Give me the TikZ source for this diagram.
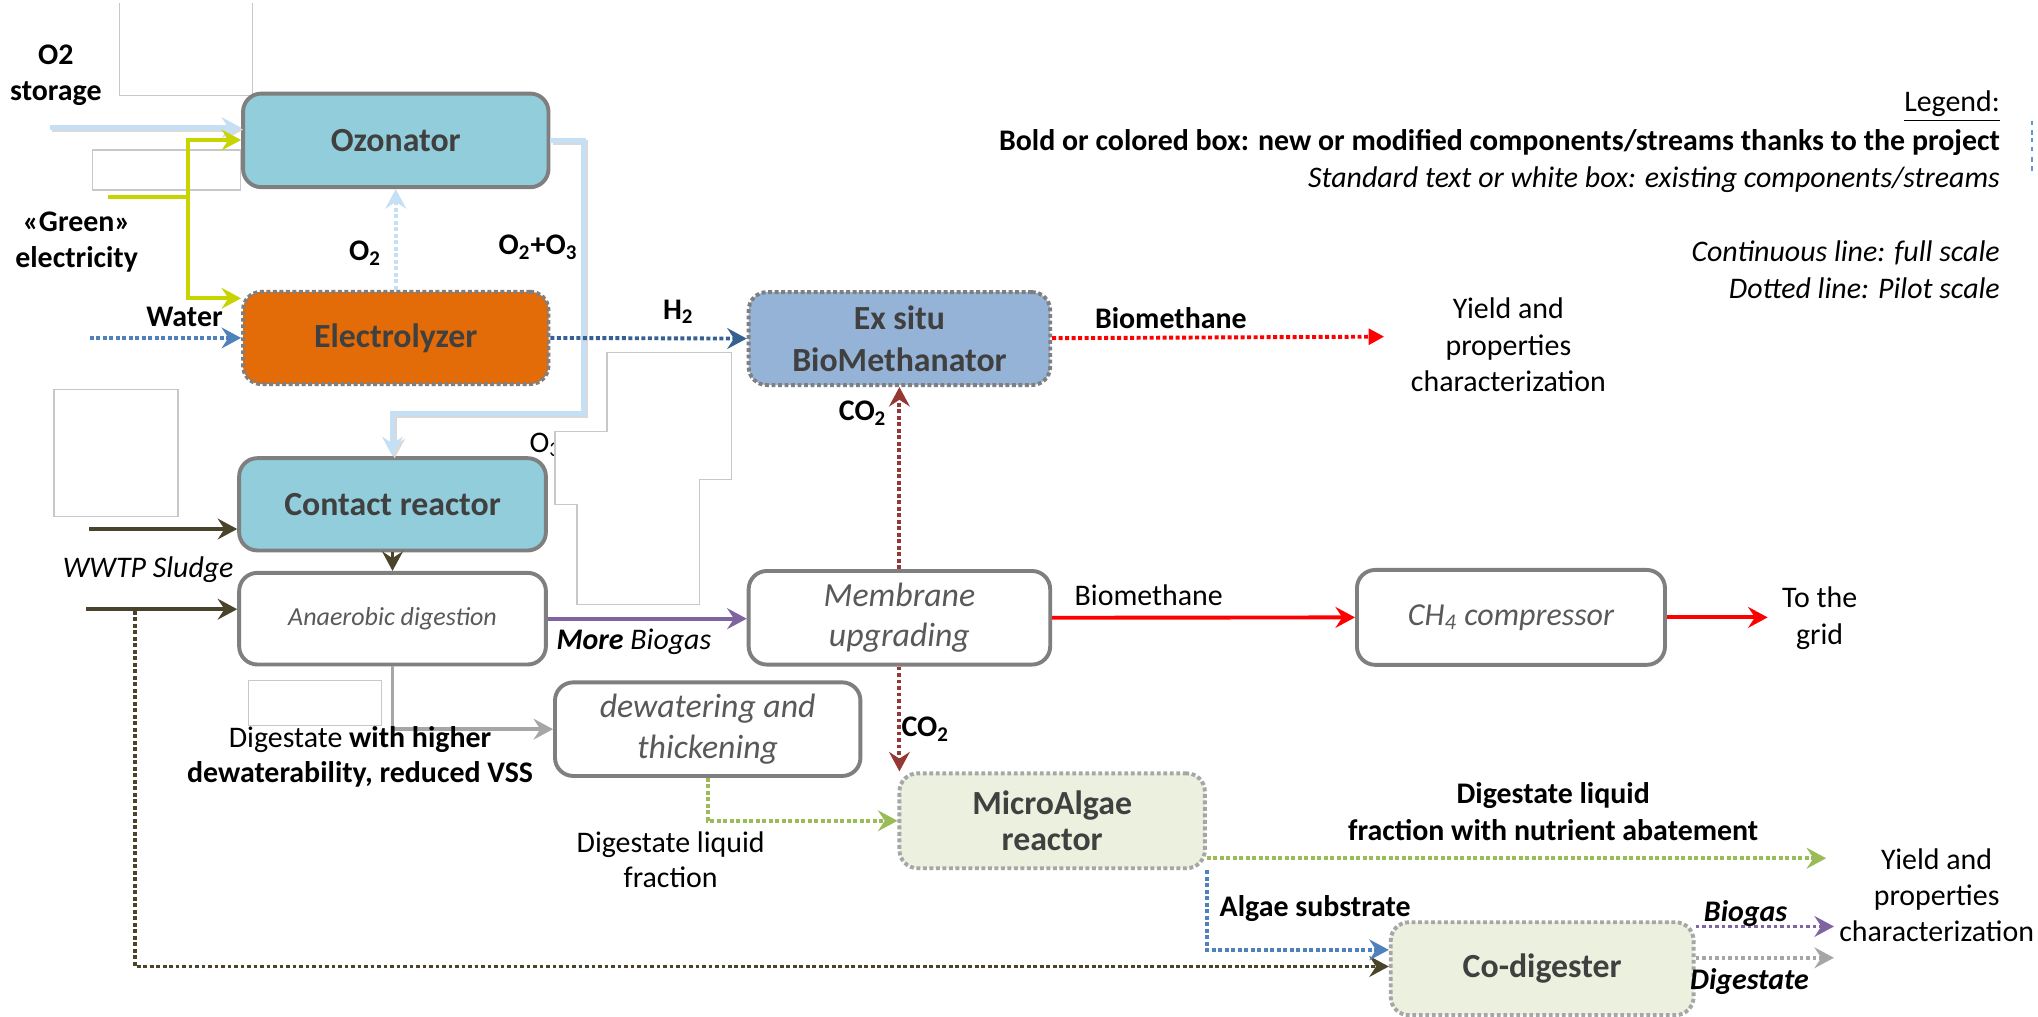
\documentclass[tikz,border=0pt]{standalone}
\usepackage{fontspec}
\setmainfont{Carlito}
\usetikzlibrary{arrows.meta}
\definecolor{bordergray}{HTML}{7F7F7F}
\definecolor{txtdark}{HTML}{404040}
\definecolor{txtgray}{HTML}{595959}
\definecolor{ozofill}{HTML}{92CDDC}
\definecolor{elecfill}{HTML}{E36C09}
\definecolor{biofill}{HTML}{95B3D7}
\definecolor{algfill}{HTML}{EBF1DE}
\definecolor{lightblue}{HTML}{C5E0F4}
\definecolor{ygreen}{HTML}{C8D400}
\definecolor{olive}{HTML}{4A452A}
\definecolor{wblue}{HTML}{4F81BD}
\definecolor{hblue}{HTML}{366092}
\definecolor{co2red}{HTML}{953735}
\definecolor{purp}{HTML}{8064A2}
\definecolor{dgray}{HTML}{A6A6A6}
\definecolor{lgreen}{HTML}{9BBB59}
\definecolor{maskgray}{HTML}{C8C8C8}
\definecolor{markblue}{HTML}{5B9BD5}
\tikzset{
  every node/.style={inner sep=1pt},
  box/.style={draw=bordergray, line width=1.5pt, rounded corners=7pt, align=center, inner sep=2pt},
  dotbox/.style={box, dash pattern=on 1.5pt off 1pt},
  titlefont/.style={font=\fontsize{13}{16}\selectfont\bfseries, text=txtdark},
  ifont/.style={font=\fontsize{13}{15.5}\selectfont\itshape, text=txtgray},
  lbl/.style={font=\fontsize{11.5}{14}\selectfont\bfseries, align=center},
  txt/.style={font=\fontsize{11.5}{14}\selectfont, align=center},
  arr/.style={-{Stealth[length=7.5pt,width=8pt,inset=2.6pt]}},
  flow/.style={line width=1.5pt},
  dots/.style={line width=1.5pt, dash pattern=on 1.5pt off 1pt},
  mask/.style={draw=maskgray, line width=0.5pt, fill=white},
  lbshade/.style={gray!30, line width=2pt, transform canvas={shift={(0.8pt,-0.8pt)}}},
  lbline/.style={lightblue, line width=2pt}
}
\begin{document}
\begin{tikzpicture}[x=0.5pt,y=-0.5pt]
\useasboundingbox (0,0) rectangle (1568,782);
\fill[white] (0,0) rectangle (1568,782);

% ---- mask artefacts (behind)
\draw[maskgray, line width=0.5pt] (92,2.6) -- (92,73.6) -- (194.5,73.6) -- (194.5,2.6);
\draw[mask] (71,115.4) rectangle (185,146.2);
\draw[mask] (41.6,299.5) rectangle (137,397.4);
\draw[mask] (191,523.6) rectangle (293.7,558);

% ---- boxes
\node[box, fill=ozofill, minimum width=117.5pt, minimum height=36pt, titlefont] (ozo) at (304.5,108) {Ozonator};
\node[dotbox, fill=elecfill, minimum width=117.5pt, minimum height=35.5pt, titlefont] (elec) at (304.5,260) {Electrolyzer};
\node[dotbox, fill=biofill, minimum width=116pt, minimum height=35.75pt, titlefont] (bio) at (692,260.5) {Ex situ\\BioMethanator};
\node[box, fill=ozofill, minimum width=118pt, minimum height=35.5pt, titlefont] (contact) at (302,388) {Contact reactor};
\node[box, fill=white, minimum width=118pt, minimum height=35.25pt, font=\fontsize{10}{12}\selectfont\itshape, text=txtgray] (ad) at (302,476) {Anaerobic digestion};
\node[box, fill=white, minimum width=116pt, minimum height=36pt, ifont] (mem) at (692,475.3) {Membrane\\upgrading};
\node[box, fill=white, minimum width=118.5pt, minimum height=36.5pt, font=\fontsize{12.3}{15}\selectfont\itshape, text=txtgray] (ch4) at (1162.5,475) {CH\textsubscript{4} compressor};
\node[box, fill=white, minimum width=117.5pt, minimum height=36pt, ifont] (dew) at (544.5,561) {dewatering and\\thickening};
\node[dotbox, draw=dgray, fill=algfill, minimum width=117.5pt, minimum height=36.5pt, titlefont, font=\fontsize{13}{14}\selectfont\bfseries] (algae) at (809.5,631.5) {MicroAlgae\\reactor};
\node[dotbox, draw=dgray, fill=algfill, minimum width=116.5pt, minimum height=35.75pt, titlefont] (codig) at (1186.5,745.3) {Co-digester};

% ---- free ends
\coordinate (o2s) at (38.5,98.2);
\coordinate (gelec) at (83,151.3);
\coordinate (yj) at (144.3,151.3);
\coordinate (yt) at (144.3,107.7);
\coordinate (yb) at (144.3,229.5);
\coordinate (wat) at (69,260);
\coordinate (lbturn) at (449,318);
\coordinate (bioend) at (1065,259);
\coordinate (cin) at (68.5,407);
\coordinate (win) at (66,468.7);
\coordinate (dtop) at (103.7,470);
\coordinate (dbot) at (103.7,743.6);
\coordinate (grid) at (1360,475);
\coordinate (gout) at (1405,660.3);
\coordinate (abot) at (926.4,730.8);
\coordinate (bgout) at (1411,712.8);
\coordinate (dgout) at (1411,736.9);

% ---- light blue oxygen / ozone streams
\draw[lbshade, arr] (o2s) -- (o2s -| ozo.west);
\draw[lbline, arr] (o2s) -- (o2s -| ozo.west);
\draw[lbshade, arr] (ozo.east) -| (lbturn) -| (contact.north);
\draw[lbline, arr] (ozo.east) -| (lbturn) -| (contact.north);
\draw[lightblue, line width=1.5pt, dash pattern=on 1.5pt off 1pt, arr] (elec.north) -- (ozo.south);

% ---- green electricity
\draw[ygreen, flow] (gelec) -- (yj);
\draw[ygreen, flow, arr] (yj) -- (yt) -- (yt -| ozo.west);
\draw[ygreen, flow, arr] (yj) -- (yb) -- (yb -| elec.west);

% ---- water, H2, biomethane
\draw[wblue, dots, arr] (wat) -- (elec.west);
\draw[hblue, dots, arr] (elec.east) -- (bio.west);
\draw[red, dots, -{Triangle[length=6pt,width=6pt]}] (bio.east |- 0,260.2) -- (bioend);

% ---- CO2
\draw[co2red, dots, arr] (mem.north) -- (bio.south);
\draw[co2red, dots, arr] (mem.south) -- (mem.south |- algae.north);

% ---- sludge
\draw[olive, flow, arr] (cin) -- (cin -| contact.west);
\draw[olive, flow, arr] (win) -- (win -| ad.west);
\draw[olive, flow, arr] (contact.south) -- (ad.north);
\draw[olive, dots, arr] (dtop) -- (dbot) -- (dbot -| codig.west);

% ---- biogas / biomethane
\draw[purp, flow, arr] (ad.east) -- (ad.east -| mem.west);
\draw[red, flow, arr] (mem.east) -- (ch4.west);
\draw[red, flow, arr] (ch4.east) -- (grid);

% ---- digestate
\draw[dgray, flow, arr] (ad.south) |- (dew.west);
\draw[lgreen, dots, arr] (dew.south) |- (algae.west);
\draw[lgreen, dots, arr] (algae.east |- gout) -- (gout);
\draw[wblue, dots, arr] (algae.south east) |- (codig.west |- abot);
\draw[purp, dots, arr] (codig.east |- bgout) -- (bgout);
\draw[dgray, dots, arr] (codig.east |- dgout) -- (dgout);

% ---- labels
\node[lbl] (lo2s) at (43,57.7) {O2\\storage};
\node[lbl] (lgreen) at (59,186) {«Green»\\electricity};
\node[lbl] (lwater) at (142,243.6) {Water};
\node[lbl] (lo2) at (281,195) {O\textsubscript{2}};
\node[lbl] (lo2o3) at (414,190) {O\textsubscript{2}+O\textsubscript{3}};
\node[lbl] (lh2) at (522,240) {H\textsubscript{2}};
\node[lbl] (lbm1) at (900.8,245) {Biomethane};
\node[txt] (lyield1) at (1160.5,265.5) {Yield and\\properties\\characterization};
\node[lbl] (lco2a) at (663.8,318) {CO\textsubscript{2}};
\node[txt, anchor=west] (lo3) at (405,342.3) {O\textsubscript{3}};
\node[txt, font=\fontsize{11.5}{14}\selectfont\itshape] (lwwtp) at (114,438.5) {WWTP Sludge};
\node[txt] (lmore) at (487.7,493.6) {\textbf{\textit{More}} \textit{Biogas}};
\node[txt] (lbm2) at (883.8,457.7) {Biomethane};
\node[txt] (lgrid) at (1400,475.7) {To the\\grid};
\node[txt, font=\fontsize{11.5}{13.5}\selectfont] (ldig) at (277,582.5) {Digestate \textbf{with higher}\\\textbf{dewaterability, reduced VSS}};
\node[lbl] (lco2b) at (712,561) {CO\textsubscript{2}};
\node[txt, font=\fontsize{11.5}{13.5}\selectfont] (lliq) at (516,661.5) {Digestate liquid\\fraction};
\node[lbl] (lnutr) at (1195,624.4) {Digestate liquid\\fraction with nutrient abatement};
\node[txt, font=\fontsize{11.5}{13.8}\selectfont] (lyield2) at (1490,688.8) {Yield and\\properties\\characterization};
\node[lbl] (lalgae) at (1011.9,698.7) {Algae substrate};
\node[lbl, font=\fontsize{11.5}{14}\selectfont\bfseries\itshape] (lbiogas) at (1343,702.6) {Biogas};
\node[lbl, font=\fontsize{11.5}{14}\selectfont\bfseries\itshape] (ldigst) at (1346,755) {Digestate};

% ---- legend
\node[txt, anchor=east] (leg0) at (1541,82) {\underline{Legend:}};
\node[lbl, anchor=east] (leg1) at (1541,110) {Bold or colored box: new or modified components/streams thanks to the project};
\node[txt, anchor=east, font=\fontsize{11.5}{14}\selectfont\itshape] (leg2) at (1541,138) {Standard text or white box: existing components/streams};
\node[txt, anchor=east, font=\fontsize{11.5}{14}\selectfont\itshape] (leg3) at (1541,194.4) {Continuous line: full scale};
\node[txt, anchor=east, font=\fontsize{11.5}{14}\selectfont\itshape] (leg4) at (1541,221.8) {Dotted line: Pilot scale};

% ---- mask polygon (in front of O3 label)
\draw[mask] (467,271) -- (563,271) -- (563,369) -- (538,369) -- (538,465) -- (444,465) -- (444,388) -- (427,388) -- (427,332) -- (467,332) -- cycle;

% ---- cut-off marks at right edge
\foreach \yy in {93,100,106,113,121,128} \draw[markblue, line width=0.8pt] (1563.5,\yy) -- ++(0,3.5);
\end{tikzpicture}
\end{document}
